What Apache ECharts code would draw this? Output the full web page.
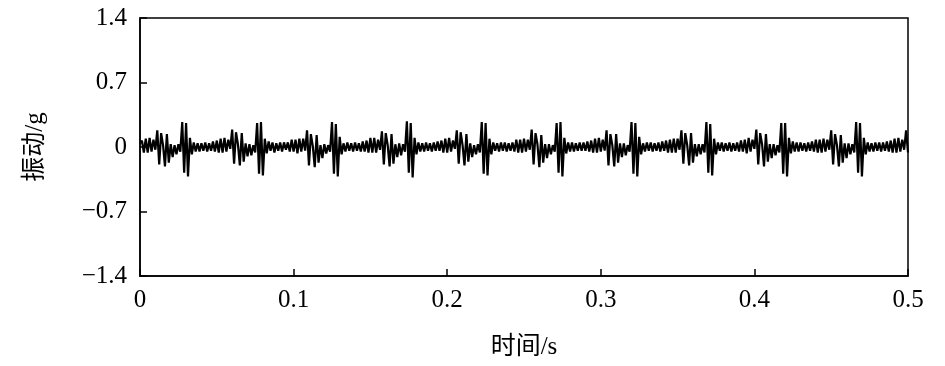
<!DOCTYPE html>
<html>
<head>
<meta charset="utf-8">
<script src="https://cdn.jsdelivr.net/npm/echarts@6/dist/echarts.min.js"></script>
<style>
  html, body { margin: 0; padding: 0; background: #fff; }
  #chart { width: 945px; height: 366px; }
</style>
</head>
<body>
<div id="chart"></div>
<script>
// Time step between samples (s)
const sampleStep = 0.00125;

// Vibration signal values (g)
const vibration = [
  0.04, 0.07, -0.06, 0.09, -0.06, 0.10, -0.05, 0.08,
  -0.03, 0.18, -0.19, 0.15, 0.02, -0.21, 0.14, -0.17, 0.03, -0.11, 0.02, -0.08, 0.03, -0.05, 0.27, -0.28, 0.26, -0.32, 0.10, -0.08, 0.05, -0.05, 0.04, -0.05, 0.04, -0.04, 0.05, -0.05, 0.04, -0.04, 0.06, -0.05, 0.07, -0.06, 0.09, -0.06, 0.10, -0.05, 0.08,
  -0.02, 0.19, -0.18, 0.16, 0.03, -0.20, 0.15, -0.16, 0.04, -0.10, 0.03, -0.09, 0.02, -0.06, 0.26, -0.29, 0.27, -0.31, 0.09, -0.07, 0.06, -0.04, 0.05, -0.06, 0.04, -0.04, 0.05, -0.05, 0.05, -0.03, 0.05, -0.05, 0.08, -0.05, 0.08, -0.07, 0.09, -0.05, 0.09,
  -0.04, 0.18, -0.20, 0.14, 0.01, -0.22, 0.13, -0.17, 0.02, -0.12, 0.03, -0.07, 0.02, -0.05, 0.27, -0.29, 0.25, -0.32, 0.11, -0.08, 0.04, -0.05, 0.05, -0.04, 0.04, -0.05, 0.05, -0.04, 0.04, -0.05, 0.06, -0.05, 0.07, -0.06, 0.10, -0.06, 0.10, -0.06, 0.08,
  -0.03, 0.17, -0.19, 0.15, 0.02, -0.21, 0.14, -0.18, 0.03, -0.11, 0.04, -0.09, 0.03, -0.05, 0.28, -0.28, 0.26, -0.33, 0.10, -0.08, 0.05, -0.05, 0.04, -0.05, 0.05, -0.04, 0.04, -0.05, 0.05, -0.04, 0.06, -0.04, 0.07, -0.06, 0.09, -0.06, 0.10, -0.05, 0.07,
  -0.02, 0.18, -0.18, 0.16, 0.02, -0.20, 0.14, -0.16, 0.04, -0.11, 0.02, -0.08, 0.03, -0.06, 0.27, -0.29, 0.26, -0.31, 0.09, -0.08, 0.05, -0.04, 0.04, -0.05, 0.05, -0.04, 0.05, -0.05, 0.04, -0.04, 0.05, -0.05, 0.08, -0.06, 0.08, -0.06, 0.09, -0.05, 0.08,
  -0.03, 0.19, -0.19, 0.15, 0.03, -0.22, 0.13, -0.17, 0.03, -0.12, 0.03, -0.08, 0.02, -0.05, 0.26, -0.28, 0.27, -0.32, 0.10, -0.07, 0.05, -0.05, 0.05, -0.05, 0.04, -0.04, 0.05, -0.04, 0.05, -0.04, 0.06, -0.05, 0.07, -0.06, 0.09, -0.06, 0.10, -0.05, 0.08,
  -0.04, 0.18, -0.20, 0.14, 0.02, -0.21, 0.14, -0.17, 0.04, -0.11, 0.04, -0.09, 0.02, -0.05, 0.27, -0.29, 0.26, -0.32, 0.11, -0.08, 0.04, -0.05, 0.05, -0.04, 0.05, -0.05, 0.04, -0.04, 0.05, -0.05, 0.06, -0.04, 0.07, -0.06, 0.08, -0.06, 0.09, -0.06, 0.09,
  -0.03, 0.18, -0.18, 0.15, 0.02, -0.20, 0.15, -0.17, 0.03, -0.10, 0.03, -0.08, 0.03, -0.06, 0.27, -0.28, 0.25, -0.31, 0.09, -0.08, 0.05, -0.04, 0.05, -0.05, 0.04, -0.04, 0.05, -0.05, 0.04, -0.04, 0.05, -0.05, 0.07, -0.05, 0.08, -0.07, 0.10, -0.05, 0.08,
  -0.02, 0.19, -0.19, 0.15, 0.03, -0.21, 0.14, -0.16, 0.03, -0.12, 0.03, -0.09, 0.02, -0.06, 0.26, -0.29, 0.26, -0.32, 0.10, -0.07, 0.06, -0.05, 0.05, -0.05, 0.05, -0.04, 0.04, -0.05, 0.05, -0.04, 0.06, -0.05, 0.08, -0.06, 0.08, -0.06, 0.09, -0.05, 0.08,
  -0.03, 0.18, -0.19, 0.14, 0.02, -0.21, 0.13, -0.17, 0.04, -0.12, 0.04, -0.08, 0.03, -0.06, 0.27, -0.28, 0.26, -0.32, 0.10, -0.08, 0.05, -0.05, 0.04, -0.05, 0.05, -0.04, 0.05, -0.05, 0.05, -0.04, 0.06, -0.05, 0.07, -0.06, 0.09, -0.06, 0.10, -0.05, 0.08,
  -0.03, 0.18, -0.06
];

// Axis settings (tick values)
const xTicks = [0, 0.1, 0.2, 0.3, 0.4, 0.5];
const yTicks = [-1.4, -0.7, 0, 0.7, 1.4];
const xName = '时间/s';
const yName = '振动/g';

const seriesData = vibration.map((v, i) => [i * sampleStep, v]);

const fmt = (v) => {
  const r = Math.round(v * 10) / 10;
  if (r === 0) return '0';
  return String(r).replace('-', '\u2212');
};

const font = '"Liberation Serif", "Times New Roman", Times, serif';
const cjkFont = '"Liberation Serif", "Noto Sans CJK SC", serif';

const chart = echarts.init(document.getElementById('chart'), null, { renderer: 'canvas' });
chart.setOption({
  animation: false,
  backgroundColor: '#fff',
  grid: {
    left: 140, right: 37, top: 18, bottom: 90,
    show: true, borderColor: '#000', borderWidth: 1.5, backgroundColor: 'transparent'
  },
  xAxis: {
    type: 'value',
    min: xTicks[0], max: xTicks[xTicks.length - 1], interval: 0.1,
    name: xName, nameLocation: 'middle', nameGap: 59,
    nameTextStyle: { fontFamily: cjkFont, fontSize: 25, color: '#000' },
    axisLine: { show: true, onZero: false, lineStyle: { color: '#000', width: 1.5 } },
    axisTick: { show: true, inside: true, length: 7, lineStyle: { color: '#000', width: 1.5 } },
    axisLabel: { formatter: fmt, fontFamily: font, fontSize: 25, color: '#000', margin: 12 },
    splitLine: { show: false }
  },
  yAxis: {
    type: 'value',
    min: yTicks[0], max: yTicks[yTicks.length - 1], interval: 0.7,
    name: yName, nameLocation: 'middle', nameGap: 92, nameRotate: 90,
    nameTextStyle: { fontFamily: cjkFont, fontSize: 25, color: '#000' },
    axisLine: { show: true, onZero: false, lineStyle: { color: '#000', width: 1.5 } },
    axisTick: { show: true, inside: true, length: 7, lineStyle: { color: '#000', width: 1.5 } },
    axisLabel: { formatter: fmt, fontFamily: font, fontSize: 25, color: '#000', margin: 13 },
    splitLine: { show: false }
  },
  series: [{
    type: 'line',
    data: seriesData,
    showSymbol: false,
    symbol: 'none',
    lineStyle: { color: '#000', width: 2.2 },
    clip: true
  }]
});
</script>
</body>
</html>
